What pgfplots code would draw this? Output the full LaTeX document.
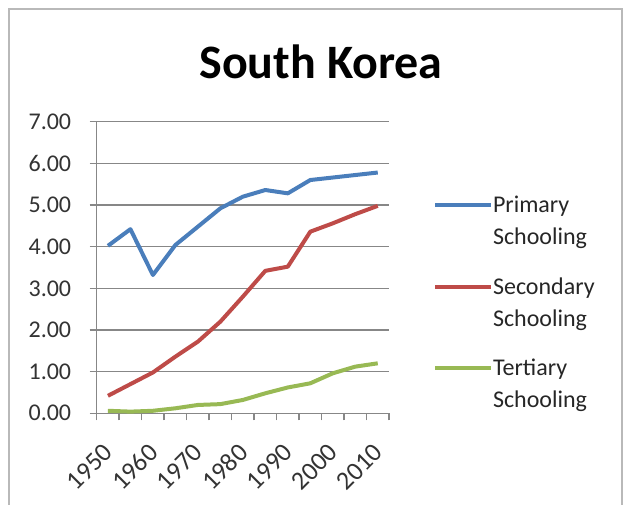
\documentclass[border=0pt]{standalone}
\usepackage{pgfplots}
\pgfplotsset{compat=1.18}
\usepackage{fontspec}
\setmainfont{Carlito}
\definecolor{pblue}{HTML}{4A7EBB}
\definecolor{pred}{HTML}{BE4B48}
\definecolor{pgreen}{HTML}{98B954}
\definecolor{gridg}{HTML}{878787}
\begin{document}
\begin{tikzpicture}[x=1pt,y=1pt]
\useasboundingbox (0,0) rectangle (625,505);
\draw[gray!55, line width=1.5pt] (9,-5) -- (9,496) -- (622,496) -- (622,-5);
\node[font=\bfseries\fontsize{48}{52}\selectfont] at (321,443) {South Korea};
\begin{axis}[
  at={(96.7pt,91.7pt)}, anchor=south west,
  scale only axis, width=292.3pt, height=291.6pt,
  xmin=0.5, xmax=13.5, ymin=0, ymax=7,
  axis x line*=bottom, axis y line*=left,
  axis line style={gridg, line width=1.5pt, -},
  ytick={0,1,...,7},
  xtick={1,3,...,13},
  xticklabels={1950,1960,1970,1980,1990,2000,2010},
  minor xtick={0.5,1.5,...,13.5},
  major x tick style={draw=none},
  tick align=outside,
  major tick length=7pt, minor tick length=7pt,
  tick style={gridg, line width=1.5pt},
  ymajorgrids, grid style={gridg, line width=1.5pt},
  /pgf/number format/assume math mode=true,
  yticklabel style={/pgf/number format/fixed, /pgf/number format/fixed zerofill, /pgf/number format/precision=2, xshift=-15pt},
  ticklabel style={font=\fontsize{24}{30}\selectfont, text=black!80},
  xticklabel style={font=\fontsize{26}{30}\selectfont, rotate=45, anchor=east, xshift=-16pt, yshift=-20pt},
  legend style={at={(1.150,0.765)}, anchor=north west, draw=none, fill=none,
    font=\fontsize{24}{32}\selectfont, row sep=57.5pt, inner sep=0pt,
    nodes={inner sep=0pt, text=black!85}},
  legend cell align=left,
  legend image code/.code={\draw[#1] (0pt,-3pt) -- (56pt,-3pt);},
  every axis plot/.append style={line width=4pt, line join=round},
]
\addplot[pblue] coordinates {(1,4.02)(2,4.42)(3,3.32)(4,4.04)(5,4.48)(6,4.92)(7,5.20)(8,5.36)(9,5.28)(10,5.60)(11,5.66)(12,5.72)(13,5.78)};
\addlegendentry{\begin{tabular}[t]{@{}l@{}}Primary\\Schooling\end{tabular}}
\addplot[pred] coordinates {(1,0.42)(2,0.70)(3,0.98)(4,1.36)(5,1.72)(6,2.20)(7,2.80)(8,3.42)(9,3.52)(10,4.36)(11,4.56)(12,4.78)(13,4.98)};
\addlegendentry{\begin{tabular}[t]{@{}l@{}}Secondary\\Schooling\end{tabular}}
\addplot[pgreen] coordinates {(1,0.06)(2,0.04)(3,0.06)(4,0.12)(5,0.20)(6,0.22)(7,0.32)(8,0.48)(9,0.62)(10,0.72)(11,0.96)(12,1.12)(13,1.20)};
\addlegendentry{\begin{tabular}[t]{@{}l@{}}Tertiary\\Schooling\end{tabular}}
\end{axis}
\end{tikzpicture}
\end{document}
